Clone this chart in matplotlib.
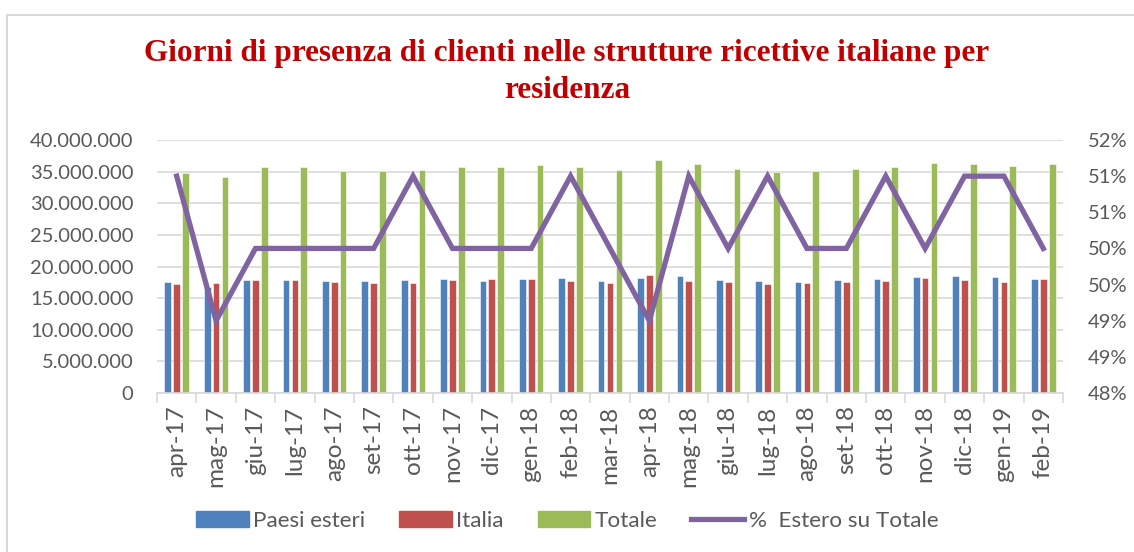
import matplotlib.pyplot as plt
import numpy as np
from matplotlib.patches import Rectangle
from matplotlib.lines import Line2D

months = ["apr-17", "mag-17", "giu-17", "lug-17", "ago-17", "set-17", "ott-17", "nov-17",
          "dic-17", "gen-18", "feb-18", "mar-18", "apr-18", "mag-18", "giu-18", "lug-18",
          "ago-18", "set-18", "ott-18", "nov-18", "dic-18", "gen-19", "feb-19"]
# milioni di giorni di presenza
esteri = [17.6, 16.7, 17.8, 17.9, 17.65, 17.65, 17.85, 18.0, 17.7, 18.0, 18.2, 17.7,
          18.25, 18.45, 17.8, 17.7, 17.6, 17.85, 18.1, 18.3, 18.45, 18.3, 18.1]
italia = [17.2, 17.4, 17.85, 17.85, 17.55, 17.45, 17.45, 17.8, 18.05, 18.05, 17.65, 17.45,
          18.6, 17.7, 17.55, 17.2, 17.45, 17.6, 17.7, 18.25, 17.8, 17.6, 18.1]
totale = [34.8, 34.1, 35.7, 35.8, 35.15, 35.05, 35.25, 35.8, 35.8, 36.0, 35.8, 35.2,
          36.8, 36.15, 35.35, 34.95, 35.1, 35.4, 35.8, 36.4, 36.25, 35.9, 36.25]
perc_estero = [51.5, 49.5, 50.5, 50.5, 50.5, 50.5, 51.5, 50.5, 50.5, 50.5, 51.5, 50.5,
               49.5, 51.5, 50.5, 51.5, 50.5, 50.5, 51.5, 50.5, 51.5, 51.5, 50.5]

left_ticks = [0, 5, 10, 15, 20, 25, 30, 35, 40]
left_labels = ["0", "5.000.000", "10.000.000", "15.000.000", "20.000.000",
               "25.000.000", "30.000.000", "35.000.000", "40.000.000"]
right_ticks = [48.5, 49, 49.5, 50, 50.5, 51, 51.5, 52]
right_labels = ["48%", "49%", "49%", "50%", "50%", "51%", "51%", "52%"]

c_blue = "#4F81BD"
c_red = "#C0504D"
c_green = "#9BBB59"
c_purple = "#8064A2"
c_text = "#595959"
c_grid = "#D9D9D9"

plt.rcParams["font.family"] = ["Lato", "DejaVu Sans"]

fig = plt.figure(figsize=(11.34, 5.52), dpi=100)
fig.patches.append(Rectangle((7 / 1134, -0.1), 1.2, 1 - 15 / 552 + 0.1,
                             transform=fig.transFigure, fill=False,
                             edgecolor=c_grid, linewidth=1.5))

ax = fig.add_axes([157 / 1134, 1 - 393 / 552, 906 / 1134, 253 / 552])
x = np.arange(len(months))
w = 0.17
off = 0.225
ax.bar(x - off, esteri, w, color=c_blue, edgecolor="white", linewidth=0.4, zorder=2)
ax.bar(x, italia, w, color=c_red, edgecolor="white", linewidth=0.4, zorder=2)
ax.bar(x + off, totale, w, color=c_green, edgecolor="white", linewidth=0.4, zorder=2)

ax.set_xlim(-0.5, len(months) - 0.5)
ax.set_ylim(0, 40)
ax.set_yticks(left_ticks)
ax.set_yticklabels(left_labels)
ax.yaxis.grid(True, color=c_grid, linewidth=1.2, zorder=0)
ax.set_axisbelow(True)
for s in ["top", "right", "left"]:
    ax.spines[s].set_visible(False)
ax.spines["bottom"].set_color(c_grid)
ax.spines["bottom"].set_linewidth(1.2)
ax.tick_params(axis="y", length=0, labelsize=14.5, labelcolor=c_text, pad=17)
ax.set_xticks(x)
ax.set_xticklabels(months, rotation=90)
ax.tick_params(axis="x", which="major", length=0, labelsize=17.5, labelcolor=c_text, pad=9)
ax.set_xticks(np.arange(-0.5, len(months)), minor=True)
ax.tick_params(axis="x", which="minor", length=7, color=c_grid, width=1.2)

ax2 = ax.twinx()
ax2.plot(x, perc_estero, color=c_purple, linewidth=3.8, solid_joinstyle="miter", zorder=3)
ax2.set_ylim(48.5, 52)
ax2.set_yticks(right_ticks)
ax2.set_yticklabels(right_labels)
for s in ax2.spines.values():
    s.set_visible(False)
ax2.tick_params(axis="y", length=0, labelsize=14.5, labelcolor=c_text, pad=18)

fig.text(0.5, 1 - 72 / 552, "Giorni di presenza di clienti nelle strutture ricettive italiane per\nresidenza",
         ha="center", va="center", fontsize=22.5, fontweight="bold", color="#C00000",
         family="Liberation Serif", linespacing=1.32)

handles = [Rectangle((0, 0), 1, 1, color=c_blue), Rectangle((0, 0), 1, 1, color=c_red),
           Rectangle((0, 0), 1, 1, color=c_green), Line2D([], [], color=c_purple, linewidth=3.8)]
fig.legend(handles, ["Paesi esteri", "Italia", "Totale", "%  Estero su Totale"],
           loc="center", bbox_to_anchor=(0.5, 1 - 521 / 552), ncol=4, frameon=False,
           fontsize=16.2, labelcolor=c_text, handlelength=2.35, handleheight=0.7,
           handletextpad=0.2, columnspacing=1.5)

fig.savefig("out.png", dpi=100)
